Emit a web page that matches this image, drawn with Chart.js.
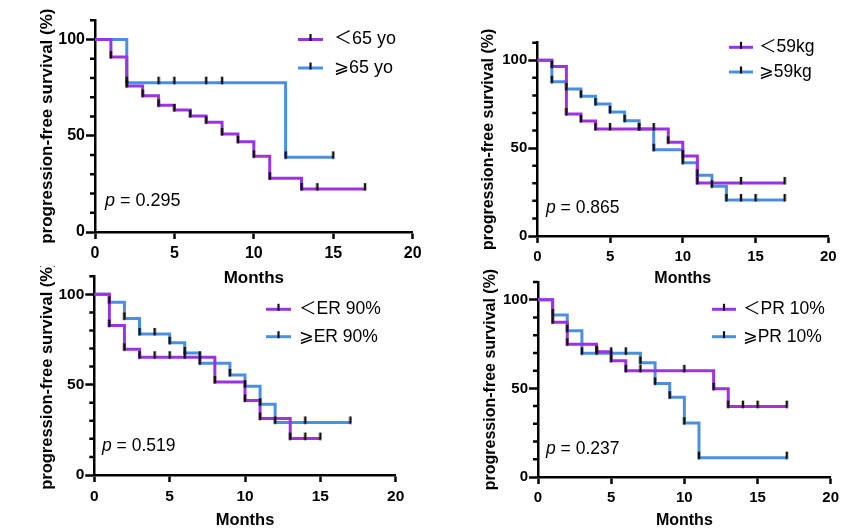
<!DOCTYPE html>
<html>
<head>
<meta charset="utf-8">
<script src="https://cdn.jsdelivr.net/npm/chart.js@4.4.1/dist/chart.umd.min.js"></script>
<style>
  body { margin: 0; background: #fff; width: 868px; height: 532px; overflow: hidden; position: relative; }
  canvas { position: absolute; }
</style>
</head>
<body>
<script>
// survival curves: months and survival (%) at each step / censor mark
const ageLtT = [0, 1, 2, 3, 4, 5, 6, 7, 8, 9, 10, 11, 13, 14, 17];
const ageLtS = [100, 90.9, 75.8, 70.8, 65.8, 63.4, 60.3, 57.0, 50.9, 46.9, 39.3, 27.9, 22.3, 22.3, 22.3];
const ageGeT = [0, 2, 4, 5, 7, 8, 12, 15];
const ageGeS = [100, 77.6, 77.6, 77.6, 77.6, 77.6, 38.8, 38.8];

const wtLtT = [0, 1, 2, 3, 4, 5, 7, 8, 9, 10, 11, 14, 17];
const wtLtS = [100, 96.4, 69.4, 65.5, 60.9, 60.9, 60.9, 60.9, 53.3, 45.5, 30.2, 30.2, 30.2];
const wtGeT = [0, 1, 2, 3, 4, 5, 6, 7, 8, 10, 11, 12, 13, 14, 15, 17];
const wtGeS = [100, 87.8, 83.7, 79.5, 75.1, 70.6, 65.6, 60.9, 49.1, 41.7, 34.5, 28.3, 20.5, 20.5, 20.5, 20.5];

const erLtT = [0, 1, 2, 3, 4, 5, 6, 7, 8, 10, 11, 13, 14, 15];
const erLtS = [100, 82.7, 69.6, 65.2, 65.2, 65.2, 65.2, 65.2, 51.5, 41.3, 31.3, 20.2, 20.2, 20.2];
const erGeT = [0, 1, 2, 3, 4, 5, 6, 7, 9, 10, 11, 12, 14, 17];
const erGeS = [100, 95.6, 86.7, 78.1, 78.1, 73.2, 67.6, 61.9, 55.4, 49.2, 39.2, 29.1, 29.1, 29.1];

const prLtT = [0, 1, 2, 4, 5, 6, 7, 10, 12, 13, 14, 15, 17];
const prLtS = [100, 87.3, 74.9, 70.7, 65.6, 59.9, 59.9, 59.9, 49.8, 39.7, 39.7, 39.7, 39.7];
const prGeT = [0, 1, 2, 3, 4, 5, 6, 7, 8, 9, 10, 11, 17];
const prGeS = [100, 91.4, 82.5, 69.8, 69.8, 69.8, 69.8, 64.5, 52.8, 45.0, 30.4, 10.9, 10.9];

const ageLabels = ['＜65 yo', '⩾65 yo'];
const wtLabels = ['＜59kg', '⩾59kg'];
const erLabels = ['＜ER 90%', '⩾ER 90%'];
const prLabels = ['＜PR 10%', '⩾PR 10%'];
const pValues = ['0.295', '0.865', '0.519', '0.237'];

const xTicks = [0, 5, 10, 15, 20];
const yMajor = [0, 50, 100];

const purple = '#9b33e3';
const blue = '#4a8fe2';
const FONT = '"Liberation Sans", Arial, "Noto Sans CJK SC", "DejaVu Sans", sans-serif';
Chart.defaults.font.family = FONT;
Chart.defaults.color = '#000';

function pts(t, s) {
  return t.map((x, i) => ({ x: x, y: s[i] }));
}

// censor tick: short black vertical mark, sitting mostly above the curve
const tickImg = document.createElement('canvas');
tickImg.width = 4;
tickImg.height = 14;
(function () {
  const c = tickImg.getContext('2d');
  c.fillStyle = '#111';
  c.fillRect(0.8, 1, 2.4, 7.5);
})();

// legend, p value and minor y ticks
const kmDeco = {
  id: 'kmDeco',
  afterDraw(chart, args, o) {
    const ctx = chart.ctx;
    const ys = chart.scales.y;
    ctx.save();
    ctx.strokeStyle = '#000';
    ctx.lineWidth = 2.5;
    ctx.beginPath();
    for (let v = 10; v <= 110; v += 10) {
      if (yMajor.includes(v)) continue;
      const py = ys.getPixelForValue(v);
      ctx.moveTo(ys.right - 5, py);
      ctx.lineTo(ys.right, py);
    }
    ctx.stroke();

    o.labels.forEach((txt, i) => {
      const y = o.leg.y + i * o.leg.gap - o.oy;
      const x1 = o.leg.x - o.ox, x2 = x1 + o.leg.len;
      ctx.strokeStyle = o.colors[i];
      ctx.lineWidth = 3;
      ctx.beginPath();
      ctx.moveTo(x1, y);
      ctx.lineTo(x2, y);
      ctx.stroke();
      ctx.strokeStyle = '#111';
      ctx.lineWidth = 2.2;
      ctx.beginPath();
      ctx.moveTo((x1 + x2) / 2, y - 5.5);
      ctx.lineTo((x1 + x2) / 2, y + 1.5);
      ctx.stroke();
      ctx.fillStyle = '#000';
      ctx.font = o.legSize + 'px ' + FONT;
      ctx.textBaseline = 'middle';
      ctx.textAlign = 'left';
      ctx.fillText(txt, o.leg.tx - o.ox, y);
    });

    const px = o.pPos.x - o.ox, py = o.pPos.y - o.oy;
    ctx.font = 'italic ' + o.legSize + 'px ' + FONT;
    ctx.fillText('p', px, py);
    const w = ctx.measureText('p').width;
    ctx.font = o.legSize + 'px ' + FONT;
    ctx.fillText(' = ' + o.p, px + w, py);
    ctx.restore();
  }
};

const panels = [
  { left: 0, top: 0, w: 434, h: 292, area: { l: 95, t: 20.3, r: 412.7, b: 232 },
    lt: [ageLtT, ageLtS], ge: [ageGeT, ageGeS], labels: ageLabels, p: pValues[0],
    leg: { x: 298, len: 25, tx: 334, y: 39.5, gap: 28.5 }, pPos: { x: 105, y: 201 },
    tickSize: 16, titleSize: 17, legSize: 18, yTitleX: 47, xTitleY: 278 },
  { left: 434, top: 0, w: 444, h: 294, area: { l: 537.3, t: 42.7, r: 828.3, b: 236 },
    lt: [wtLtT, wtLtS], ge: [wtGeT, wtGeS], labels: wtLabels, p: pValues[1],
    leg: { x: 729, len: 24, tx: 759, y: 47.3, gap: 24.7 }, pPos: { x: 546, y: 208 },
    tickSize: 15, titleSize: 16, legSize: 17.5, yTitleX: 489, xTitleY: 279 },
  { left: 0, top: 266, w: 434, h: 268, area: { l: 94.3, t: 273.7, r: 395.7, b: 475 },
    lt: [erLtT, erLtS], ge: [erGeT, erGeS], labels: erLabels, p: pValues[2],
    leg: { x: 266, len: 25, tx: 299, y: 309.3, gap: 27.4 }, pPos: { x: 102, y: 446 },
    tickSize: 15.5, titleSize: 16.5, legSize: 17.5, yTitleX: 47, xTitleY: 520 },
  { left: 434, top: 266, w: 444, h: 268, area: { l: 538, t: 282, r: 830.7, b: 477 },
    lt: [prLtT, prLtS], ge: [prGeT, prGeS], labels: prLabels, p: pValues[3],
    leg: { x: 712, len: 24, tx: 743, y: 309.3, gap: 27.4 }, pPos: { x: 546, y: 449 },
    tickSize: 15, titleSize: 16, legSize: 17.5, yTitleX: 491, xTitleY: 521 }
];

panels.forEach((pn) => {
  const cv = document.createElement('canvas');
  cv.width = pn.w;
  cv.height = pn.h;
  cv.style.left = pn.left + 'px';
  cv.style.top = pn.top + 'px';
  document.body.appendChild(cv);

  const lh = pn.titleSize * 1.2;
  const ltPts = pts(pn.lt[0], pn.lt[1]);
  const gePts = pts(pn.ge[0], pn.ge[1]);
  const tickSet = (d) => ({
    data: d.slice(1), showLine: false, pointStyle: tickImg,
    pointRadius: 5, pointHoverRadius: 5, borderColor: '#111'
  });

  new Chart(cv, {
    type: 'line',
    data: {
      datasets: [
        tickSet(ltPts),
        tickSet(gePts),
        { data: ltPts, stepped: true, borderColor: purple, borderWidth: 3, pointRadius: 0, fill: false },
        { data: gePts, stepped: true, borderColor: blue, borderWidth: 3, pointRadius: 0, fill: false }
      ]
    },
    plugins: [kmDeco],
    options: {
      responsive: false,
      animation: false,
      events: [],
      layout: { padding: { left: 0, top: pn.area.t - pn.top, right: pn.left + pn.w - pn.area.r, bottom: 0 } },
      plugins: {
        legend: { display: false },
        tooltip: { enabled: false },
        kmDeco: {
          labels: pn.labels, colors: [purple, blue], p: pn.p, leg: pn.leg, pPos: pn.pPos,
          legSize: pn.legSize, ox: pn.left, oy: pn.top
        }
      },
      scales: {
        x: {
          type: 'linear', min: xTicks[0], max: xTicks[xTicks.length - 1],
          afterBuildTicks: (s) => { s.ticks = xTicks.map((v) => ({ value: v })); },
          ticks: { color: '#000', font: { size: pn.tickSize, weight: 'bold' }, padding: 5, maxRotation: 0 },
          grid: { drawOnChartArea: false, tickLength: 7, tickWidth: 2.5, tickColor: '#000' },
          border: { color: '#000', width: 2.5 },
          title: {
            display: true, text: 'Months', color: '#000',
            font: { size: pn.titleSize, weight: 'bold' },
            padding: { top: 0, bottom: pn.h - (pn.xTitleY - pn.top) - lh / 2 }
          },
          afterFit: (s) => { s.height = pn.top + pn.h - pn.area.b; }
        },
        y: {
          type: 'linear', min: 0, max: 110,
          ticks: {
            stepSize: 10, color: '#000', font: { size: pn.tickSize, weight: 'bold' }, padding: 1,
            autoSkip: false,
            callback: (v) => (yMajor.includes(v) ? v : '')
          },
          grid: {
            drawOnChartArea: false, tickLength: 9, tickWidth: 2.5,
            tickColor: (c) => (c.tick && yMajor.includes(c.tick.value) ? '#000' : 'rgba(0,0,0,0)')
          },
          border: { color: '#000', width: 2.5 },
          title: {
            display: true, text: 'progression-free survival (%)', color: '#000',
            font: { size: pn.titleSize, weight: 'bold' },
            padding: { top: pn.yTitleX - pn.left - lh / 2, bottom: 0 }
          },
          afterFit: (s) => { s.width = pn.area.l - pn.left; }
        }
      }
    }
  });
});
</script>
</body>
</html>
